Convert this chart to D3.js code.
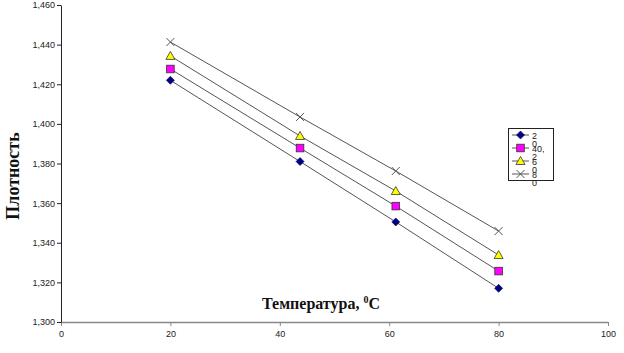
<!DOCTYPE html>
<html><head><meta charset="utf-8">
<script src="https://cdn.jsdelivr.net/npm/d3@7"></script>
<style>body{margin:0;background:#fff}svg{display:block}</style>
</head><body>
<svg id="c" width="624" height="353"></svg>
<script>
const temps = [20, 43.7, 61.2, 80];
const seriesNames = ["20", "40,2", "60", "80"];
const s1 = [1.422, 1.381, 1.3505, 1.317];
const s2 = [1.4277, 1.3878, 1.3585, 1.3257];
const s3 = [1.4343, 1.3939, 1.3661, 1.3338];
const s4 = [1.4413, 1.4035, 1.3762, 1.3459];
const xTicks = [0, 20, 40, 60, 80, 100];
const yTicks = [1.30, 1.32, 1.34, 1.36, 1.38, 1.40, 1.42, 1.44, 1.46];
const yTitle = "Плотность";
const xTitle = "Температура, ";

const series = [
  {name: seriesNames[0], values: s1, marker: "diamond"},
  {name: seriesNames[1], values: s2, marker: "square"},
  {name: seriesNames[2], values: s3, marker: "triangle"},
  {name: seriesNames[3], values: s4, marker: "cross"}
];

const svg = d3.select("#c");
const x = d3.scaleLinear().domain([0, 100]).range([61, 608]);
const y = d3.scaleLinear().domain([1.30, 1.46]).range([322, 5]);

const gx = svg.append("g").attr("transform", "translate(0,322)")
  .call(d3.axisBottom(x).tickValues(xTicks).tickSize(4).tickSizeOuter(0).tickFormat(d3.format("d")));
gx.select(".domain").attr("stroke", "#888").attr("stroke-width", 1.5);
gx.selectAll(".tick line").attr("stroke", "#888");
gx.selectAll("text").attr("font-family", "Liberation Sans, Arial, sans-serif").attr("font-size", 9).attr("fill", "#222").attr("dy", "0.9em");

const gy = svg.append("g").attr("transform", "translate(61,0)")
  .call(d3.axisLeft(y).tickValues(yTicks).tickSize(4).tickSizeOuter(0)
    .tickFormat(d => d3.format(".3f")(d).replace(".", ",")));
gy.select(".domain").attr("stroke", "#222");
gy.selectAll(".tick line").attr("stroke", "#222");
gy.selectAll("text").attr("font-family", "Liberation Sans, Arial, sans-serif").attr("font-size", 9).attr("fill", "#222").attr("x", -6);

function drawMarker(g, type, cx, cy) {
  if (type === "diamond") {
    g.append("path").attr("d", `M${cx},${cy-4}L${cx+4},${cy}L${cx},${cy+4}L${cx-4},${cy}Z`)
      .attr("fill", "#000080").attr("stroke", "#000060").attr("stroke-width", 0.6);
  } else if (type === "square") {
    g.append("rect").attr("x", cx-3.8).attr("y", cy-3.8).attr("width", 7.6).attr("height", 7.6)
      .attr("fill", "#ff00ff").attr("stroke", "#333").attr("stroke-width", 0.8);
  } else if (type === "triangle") {
    g.append("path").attr("d", `M${cx},${cy-4.5}L${cx+4.5},${cy+3.5}L${cx-4.5},${cy+3.5}Z`)
      .attr("fill", "#ffff00").attr("stroke", "#333").attr("stroke-width", 0.8);
  } else {
    g.append("path").attr("d", `M${cx-4},${cy-4}L${cx+4},${cy+4}M${cx-4},${cy+4}L${cx+4},${cy-4}`)
      .attr("stroke", "#555").attr("stroke-width", 1).attr("fill", "none");
  }
}

const line = d3.line().x((d, i) => x(temps[i])).y(d => y(d));
series.forEach(s => {
  svg.append("path").attr("d", line(s.values)).attr("fill", "none").attr("stroke", "#555").attr("stroke-width", 1);
});
series.forEach(s => {
  const g = svg.append("g");
  s.values.forEach((v, i) => drawMarker(g, s.marker, x(temps[i]), y(v)));
});

const lg = svg.append("g");
lg.append("rect").attr("x", 508.5).attr("y", 128.5).attr("width", 45).attr("height", 52)
  .attr("fill", "#fff").attr("stroke", "#222").attr("stroke-width", 1);
series.forEach((s, i) => {
  const cy = 135 + i * 13;
  lg.append("line").attr("x1", 512).attr("x2", 529).attr("y1", cy).attr("y2", cy).attr("stroke", "#555");
  drawMarker(lg, s.marker, 520.5, cy);
  const parts = s.name.length > 2 ? [s.name.slice(0, 3), s.name.slice(3)] : [s.name[0], s.name[1]];
  parts.forEach((p, j) => {
    lg.append("text").attr("x", 532).attr("y", cy + 3.5 + j * 8.5).text(p)
      .attr("font-family", "Liberation Sans, Arial, sans-serif").attr("font-size", 9).attr("fill", "#222");
  });
});

svg.append("text").attr("transform", "translate(19,176) rotate(-90)").attr("text-anchor", "middle")
  .attr("font-family", "Liberation Serif, Times New Roman, serif").attr("font-weight", "bold").attr("font-size", 18)
  .attr("fill", "#111").text(yTitle);
const xt = svg.append("text").attr("x", 262).attr("y", 309)
  .attr("font-family", "Liberation Serif, Times New Roman, serif").attr("font-weight", "bold").attr("font-size", 16)
  .attr("fill", "#111");
xt.append("tspan").text(xTitle);
xt.append("tspan").attr("font-size", 10).attr("dy", -6).text("0");
xt.append("tspan").attr("dy", 6).text("C");
</script>
</body></html>
